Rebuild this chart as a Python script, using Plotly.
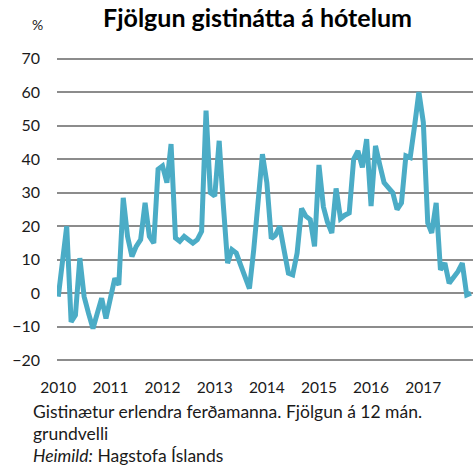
import plotly.graph_objects as go
import pandas as pd

# Monthly 12-month growth of hotel overnight stays (%), Jan 2010 - Dec 2017
values = [
    -1, 9, 20, -8.5, -6.5, 10.5, -1, -6, -10.5, -6, -1.5, -7.5,     # 2010
    -1.5, 4.5, 2.5, 28.5, 17, 11, 14, 16, 27, 17, 15, 37,          # 2011
    38, 33, 44.5, 16.5, 15.5, 17, 16, 15, 16, 18.5, 54.5, 30,      # 2012
    29, 45.5, 27, 9, 13, 12, 8.5, 5, 1.4, 13, 26, 41.5,            # 2013
    33, 16.3, 17.3, 20, 13, 6, 5.5, 12, 25.3, 23, 22, 14,          # 2014
    38.3, 25.8, 21.3, 18, 31.3, 22.3, 23.3, 24, 40, 42.5, 37.6, 46, # 2015
    26, 44, 38.5, 33, 31.5, 30, 25, 27, 41, 40.5, 50, 60,          # 2016
    51, 21, 18, 27, 7, 9, 3, 4.5, 6.5, 9, -0.5, 0,                 # 2017
]
months = pd.date_range("2010-01-01", periods=len(values), freq="MS")
years = [2010, 2011, 2012, 2013, 2014, 2015, 2016, 2017]
y_ticks = [-20, -10, 0, 10, 20, 30, 40, 50, 60, 70]

title_text = "Fjölgun gistinátta á hótelum"
unit_text = "%"
note_lines = ["Gistinætur erlendra ferðamanna. Fjölgun á 12 mán.",
              "grundvelli",
              "<i>Heimild:</i> Hagstofa Íslands"]

W, H = 475, 467
FONT = "Lato"
LINE_COLOR = "#4BACC6"
GRID_COLOR = "#8c8c8c"
TEXT_COLOR = "#1a1a1a"

# plot area in pixels
L, R = 57, 473
T, B = 57.3, 361.7
y_range = [-20.5, 70.5]

fig = go.Figure()
fig.add_trace(go.Scatter(
    x=months, y=values, mode="lines",
    line=dict(color=LINE_COLOR, width=5),
    hoverinfo="x+y", showlegend=False,
))

def px_x(p):
    return (p - L) / (R - L)

def px_y(p):
    return (B - p) / (B - T)

annotations = [
    dict(text=unit_text, x=px_x(37), y=px_y(25), xref="paper", yref="paper",
         showarrow=False, xanchor="center", yanchor="middle",
         font=dict(family=FONT, size=14, color=TEXT_COLOR)),
]
for line, yy in zip(note_lines, [411, 433, 455]):
    annotations.append(dict(
        text=line, x=px_x(31), y=px_y(yy), xref="paper", yref="paper",
        showarrow=False, xanchor="left", yanchor="middle",
        font=dict(family=FONT, size=17.5, color=TEXT_COLOR)))

fig.update_layout(
    template="none",
    width=W, height=H,
    margin=dict(l=L, r=W - R, t=T, b=H - B, pad=0, autoexpand=False),
    paper_bgcolor="white", plot_bgcolor="white",
    title=dict(text="<b>" + title_text + "</b>", xref="container", yref="container",
               x=257.5 / W, y=1 - 18 / H, xanchor="center", yanchor="middle",
               font=dict(family=FONT, size=25, color="#000000")),
    xaxis=dict(
        type="date",
        range=["2009-12-23", "2017-12-15"],
        tickvals=[pd.Timestamp(f"{y}-01-01") for y in years],
        ticktext=[str(y) for y in years],
        showgrid=False, zeroline=False, showline=False, ticks="",
        automargin=False,
        ticklabelstandoff=14,
        tickfont=dict(family=FONT, size=15.5, color=TEXT_COLOR),
    ),
    yaxis=dict(
        range=y_range,
        tickvals=y_ticks,
        showgrid=True, gridcolor=GRID_COLOR, gridwidth=2,
        zeroline=False, showline=False, ticks="",
        automargin=False,
        ticklabelstandoff=16,
        tickfont=dict(family=FONT, size=16, color=TEXT_COLOR),
    ),
    annotations=annotations,
    font=dict(family=FONT),
)

# remove the page's default body margin so the figure fills the window exactly
fig.write_html("out.html", config={"displayModeBar": False},
               post_script="document.body.style.margin='0px';")
